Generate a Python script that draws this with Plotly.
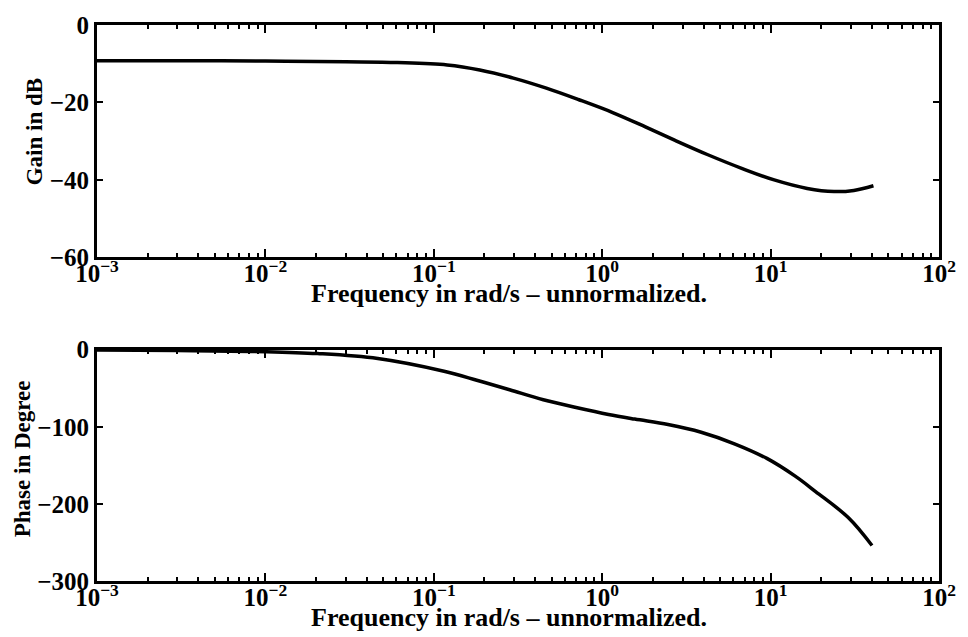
import plotly.graph_objects as go
from plotly.subplots import make_subplots

# Data
gain_freq = [0.001, 0.003, 0.01, 0.03, 0.0608, 0.12, 0.1875, 0.297, 0.466, 0.728, 1.154, 1.805,
             2.71, 4.24, 6.73, 10.5, 16.5, 23.8, 31.2, 40.8]
gain_db = [-9.2, -9.2, -9.3, -9.5, -9.7, -10.3, -11.6, -13.7, -16.3, -19.3, -22.6, -26.3,
           -29.8, -33.5, -37.0, -40.0, -42.2, -43.0, -42.7, -41.5]

phase_freq = [0.001, 0.003, 0.01, 0.0204, 0.0465, 0.115, 0.18, 0.282, 0.447, 0.70, 1.09, 1.56,
              2.46, 3.87, 6.1, 9.5, 14.0, 18.5, 29.0, 40.0]
phase_deg = [-0.3, -1, -2.5, -5, -11.5, -28, -39.6, -52, -65, -75, -84, -90,
             -97, -107, -122, -141, -164, -184, -218, -254]

x_tickvals = [1e-3, 1e-2, 1e-1, 1e0, 1e1, 1e2]
x_ticktext = ["10<sup>−3</sup>", "10<sup>−2</sup>", "10<sup>−1</sup>", "10<sup>0</sup>", "10<sup>1</sup>", "10<sup>2</sup>"]
x_minor = [k * 10.0 ** e for e in range(-3, 2) for k in range(2, 10)]
gain_ticks = [0, -20, -40, -60]
phase_ticks = [0, -100, -200, -300]

xlabel = "Frequency in rad/s – unnormalized."
ylabel_gain = "Gain in dB"
ylabel_phase = "Phase in Degree"

FONT = "Liberation Serif"

fig = make_subplots(rows=2, cols=1, vertical_spacing=0.166)
fig.add_trace(go.Scatter(x=gain_freq, y=gain_db, mode="lines",
                         line=dict(color="black", width=3.5, shape="spline", smoothing=1.0)), row=1, col=1)
fig.add_trace(go.Scatter(x=phase_freq, y=phase_deg, mode="lines",
                         line=dict(color="black", width=3.5, shape="spline", smoothing=1.0)), row=2, col=1)

xaxis_common = dict(
    type="log", range=[-3, 2], tickmode="array", tickvals=x_tickvals, ticktext=x_ticktext,
    ticks="inside", ticklen=8, tickwidth=2, tickcolor="black",
    showline=True, linecolor="black", linewidth=3, mirror="allticks",
    showgrid=False, zeroline=False, ticklabelstandoff=-8,
    tickfont=dict(family=FONT, size=25, color="black", weight="bold"),
    minor=dict(tickmode="array", tickvals=x_minor, ticks="inside", ticklen=4, tickwidth=2,
               tickcolor="black", showgrid=False),
)
yaxis_common = dict(
    ticks="inside", ticklen=6, tickwidth=2, tickcolor="black",
    showline=True, linecolor="black", linewidth=3, mirror="allticks",
    showgrid=False, zeroline=False,
    tickfont=dict(family=FONT, size=25, color="black", weight="bold"),
)

fig.update_xaxes(**xaxis_common)
fig.update_yaxes(**yaxis_common)
fig.update_yaxes(range=[-60, 0], tickvals=gain_ticks, row=1, col=1)
fig.update_yaxes(range=[-300, 0], tickvals=phase_ticks, row=2, col=1)

fig.update_layout(
    width=968, height=637,
    margin=dict(l=97, r=22, t=16, b=56),
    paper_bgcolor="white", plot_bgcolor="white",
    showlegend=False,
    font=dict(family=FONT, color="black"),
)
fig.update_yaxes(domain=[0.582, 1.0], row=1, col=1)
fig.update_yaxes(domain=[0.0, 0.416], row=2, col=1)

xtitle_font = dict(family=FONT, size=26, color="black", weight="bold")
ytitle_font = dict(family=FONT, size=23, color="black", weight="bold")
fig.add_annotation(text=xlabel, xref="paper", yref="paper", x=0.5, y=0.582, yshift=-20, xshift=-9,
                   xanchor="center", yanchor="top", showarrow=False, font=xtitle_font)
fig.add_annotation(text=xlabel, xref="paper", yref="paper", x=0.5, y=0.0, yshift=-20, xshift=-9,
                   xanchor="center", yanchor="top", showarrow=False, font=xtitle_font)
fig.add_annotation(text=ylabel_gain, xref="paper", yref="paper", x=0, xshift=-63, y=0.807,
                   xanchor="center", yanchor="middle", textangle=-90, showarrow=False, font=ytitle_font)
fig.add_annotation(text=ylabel_phase, xref="paper", yref="paper", x=0, xshift=-75, y=0.219,
                   xanchor="center", yanchor="middle", textangle=-90, showarrow=False, font=ytitle_font)

fig.write_html("out.html")
